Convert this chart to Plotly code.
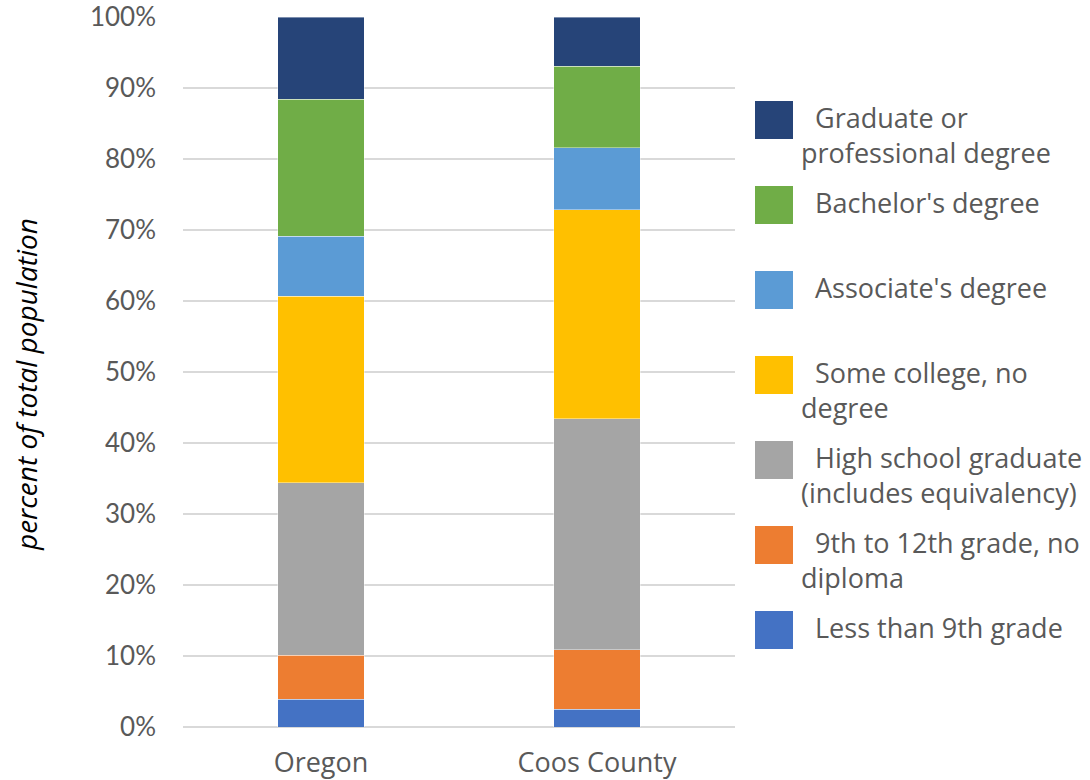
import plotly.graph_objects as go

# data (percent of total population)
regions = ["Oregon", "Coos County"]
categories = [
    "Less than 9th grade",
    "9th to 12th grade, no diploma",
    "High school graduate (includes equivalency)",
    "Some college, no degree",
    "Associate's degree",
    "Bachelor's degree",
    "Graduate or professional degree",
]
less_than_9th = [3.9, 2.5]
grade_9_to_12 = [6.2, 8.4]
high_school = [24.3, 32.5]
some_college = [26.3, 29.5]
associate = [8.4, 8.7]
bachelor = [19.3, 11.5]
graduate = [11.6, 6.9]

series = [less_than_9th, grade_9_to_12, high_school, some_college,
          associate, bachelor, graduate]
colors = ["#4472C4", "#ED7D31", "#A5A5A5", "#FFC000",
          "#5B9BD5", "#70AD47", "#264478"]
# legend labels, wrapped like the original
legend_text = [
    "Less than 9th grade",
    "9th to 12th grade, no<br>diploma",
    "High school graduate<br>(includes equivalency)",
    "Some college, no<br>degree",
    "Associate's degree",
    "Bachelor's degree",
    "Graduate or<br>professional degree",
]
y_ticks = [0, 10, 20, 30, 40, 50, 60, 70, 80, 90, 100]
y_labels = ["0%", "10%", "20%", "30%", "40%", "50%",
            "60%", "70%", "80%", "90%", "100%"]

fig = go.Figure()
for name, vals, col in zip(categories, series, colors):
    fig.add_trace(go.Bar(
        x=regions, y=vals, name=name,
        marker=dict(color=col, line=dict(color="rgba(255,255,255,0.5)", width=0.8)),
        showlegend=False,
    ))

# body margin is removed in the page (post_script below), so no offset
W, H = 1090, 780
ml, mt = 183, 17
pw, ph = 552, 710
mr, mb = W - ml - pw, H - mt - ph

def px(x):
    return (x - ml) / pw

def py(y):
    return (mt + ph - y) / ph

shapes = []
annotations = []
# custom legend with big square swatches (top item = last series)
for i, k in enumerate(reversed(range(len(categories)))):
    top = 101 + 85 * i
    shapes.append(dict(type="rect", xref="paper", yref="paper",
                       x0=px(755), x1=px(793), y0=py(top + 38), y1=py(top),
                       fillcolor=colors[k], line=dict(width=0)))
    annotations.append(dict(
        xref="paper", yref="paper", x=px(799), y=py(top - 4),
        xanchor="left", yanchor="top", align="left", showarrow=False,
        text="&nbsp;&nbsp;" + legend_text[k],
        font=dict(family="Open Sans", size=27, color="#595959"),
    ))

annotations.append(dict(
    xref="paper", yref="paper", x=px(5), y=py(385), textangle=-90,
    showarrow=False, text="<i>percent of total population</i>",
    font=dict(family="Open Sans", size=28, color="#000000"),
))

fig.update_layout(
    width=W, height=H,
    margin=dict(l=ml, r=mr, t=mt, b=mb),
    barmode="stack", bargap=0.686,
    plot_bgcolor="white", paper_bgcolor="white",
    showlegend=False,
    shapes=shapes, annotations=annotations,
    xaxis=dict(
        showgrid=False, showline=False, ticks="", automargin=False,
        tickfont=dict(family="Open Sans", size=27, color="#595959"),
        ticklabelstandoff=17,
    ),
    yaxis=dict(
        range=[0, 100.02], tickmode="array", tickvals=y_ticks, ticktext=y_labels,
        automargin=False, ticklabeloverflow="allow",
        showgrid=True, gridcolor="#D9D9D9", gridwidth=1.5,
        zeroline=True, zerolinecolor="#D9D9D9", zerolinewidth=1.5,
        showline=False, ticks="",
        tickfont=dict(family="Lato", size=26, color="#595959"),
        ticklabelstandoff=26,
    ),
)

fig.write_html("out.html", config={"displayModeBar": False},
               post_script="document.body.style.margin='0';")
